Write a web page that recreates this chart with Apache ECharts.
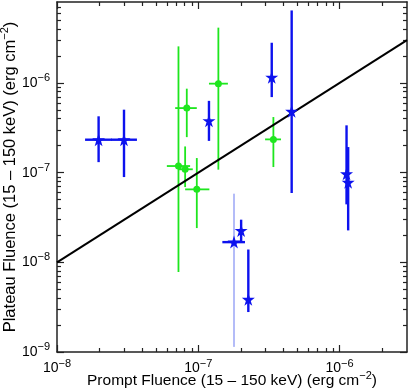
<!DOCTYPE html>
<html>
<head>
<meta charset="utf-8">
<script src="https://cdn.jsdelivr.net/npm/echarts@6/dist/echarts.min.js"></script>
<style>
  html, body { margin: 0; padding: 0; background: #fff; }
  #chart { width: 409px; height: 392px; }
</style>
</head>
<body>
<div id="chart"></div>
<script>
// axis ranges
const xMin = 1e-8, xMax = 3e-6;
const yMin = 1e-9, yMax = 8e-6;

// tick values (decades get labels, the rest are minor ticks)
const xMajor = [1e-8, 1e-7, 1e-6];
const xMinor = [2e-8, 3e-8, 4e-8, 5e-8, 6e-8, 7e-8, 8e-8, 9e-8,
                2e-7, 3e-7, 4e-7, 5e-7, 6e-7, 7e-7, 8e-7, 9e-7, 2e-6];
const yMajor = [1e-9, 1e-8, 1e-7, 1e-6];
const yMinor = [2e-9, 3e-9, 4e-9, 5e-9, 6e-9, 7e-9, 8e-9, 9e-9,
                2e-8, 3e-8, 4e-8, 5e-8, 6e-8, 7e-8, 8e-8, 9e-8,
                2e-7, 3e-7, 4e-7, 5e-7, 6e-7, 7e-7, 8e-7, 9e-7,
                2e-6, 3e-6, 4e-6, 5e-6, 6e-6, 7e-6];

// blue stars
const blueX   = [1.97e-8, 2.98e-8, 1.19e-7, 3.31e-7, 4.58e-7, 1.12e-6, 1.15e-6, 1.79e-7, 2.01e-7, 2.26e-7];
const blueY   = [2.33e-7, 2.33e-7, 3.80e-7, 1.16e-6, 4.83e-7, 9.7e-8, 7.8e-8, 1.68e-8, 2.27e-8, 3.87e-9];
const blueXLo = [1.58e-8, 2.41e-8, 1.19e-7, 3.31e-7, 4.58e-7, 1.12e-6, 1.15e-6, 1.48e-7, 2.01e-7, 2.26e-7];
const blueXHi = [2.44e-8, 3.68e-8, 1.19e-7, 3.31e-7, 4.58e-7, 1.12e-6, 1.15e-6, 2.14e-7, 2.01e-7, 2.26e-7];
const blueYLo = [1.31e-7, 8.93e-8, 2.26e-7, 6.96e-7, 5.93e-8, 4.43e-8, 2.27e-8, 1.68e-8, 1.73e-8, 2.79e-9];
const blueYHi = [4.25e-7, 5.04e-7, 6.32e-7, 2.81e-6, 6.44e-6, 3.37e-7, 1.93e-7, 1.68e-8, 2.99e-8, 1.39e-8];

// the one pale vertical bar
const faintX   = [1.79e-7];
const faintYLo = [1.14e-9];
const faintYHi = [5.83e-8];

// green circles
const greenX   = [8.29e-8, 1.387e-7, 7.24e-8, 8.07e-8, 9.76e-8, 3.40e-7];
const greenY   = [5.25e-7, 9.83e-7, 1.185e-7, 1.09e-7, 6.51e-8, 2.35e-7];
const greenXLo = [6.86e-8, 1.19e-7, 5.99e-8, 7.2e-8, 8.07e-8, 2.97e-7];
const greenXHi = [9.76e-8, 1.62e-7, 8.75e-8, 9.14e-8, 1.198e-7, 3.85e-7];
const greenYLo = [2.49e-7, 1.08e-7, 7.8e-9, 6.91e-8, 2.41e-8, 1.155e-7];
const greenYHi = [8.64e-7, 4.14e-6, 2.56e-6, 1.96e-7, 1.455e-7, 4.17e-7];

// y = x line
const lineX = [1e-8, 3e-6];
const lineY = [1e-8, 3e-6];

const FONT = "'Liberation Sans', Arial, sans-serif";
const BLUE = '#0d12ee';
const GREEN = '#1ee61e';
const PALE = '#b4bcf8';
const STAR = 'path://M50,0 L61,35 L98,35 L68,57 L79,91 L50,70 L21,91 L32,57 L2,35 L39,35 Z';

// 10^-n tick labels
const rich = {
  b: { fontSize: 14, fontFamily: FONT, color: '#000' },
  e: { fontSize: 11, fontFamily: FONT, color: '#000', padding: [0, 0, 10, 0] }
};
// superscript inside the axis names
const nameRich = {
  e: { fontSize: 11, fontFamily: FONT, color: '#000', padding: [0, 0, 11, 0] }
};

function powLabel(v) {
  const p = Math.round(Math.log10(v));
  return '{b|10}{e|\u2212' + Math.abs(p) + '}';
}

// one axis = border + major ticks (+ labels), second one only minor ticks
function axisPair(dim, pos, min, max, major, minor, withLabels) {
  const base = { type: 'log', logBase: 10, min: min, max: max, position: pos,
                 splitLine: { show: false }, gridIndex: 0 };
  const main = Object.assign({}, base, {
    axisLine: { show: true, lineStyle: { color: '#222', width: 1.5 } },
    axisTick: { show: true, inside: true, length: 7, customValues: major,
                lineStyle: { color: '#222', width: 1.2 } },
    axisLabel: withLabels
      ? { show: true, customValues: major, formatter: powLabel, rich: rich,
          margin: dim === 'x' ? 6 : 7 }
      : { show: false }
  });
  const sub = Object.assign({}, base, {
    axisLine: { show: false },
    axisTick: { show: true, inside: true, length: 4, customValues: minor,
                lineStyle: { color: '#222', width: 1.2 } },
    axisLabel: { show: false }
  });
  return [main, sub];
}

const xAxes = axisPair('x', 'bottom', xMin, xMax, xMajor, xMinor, true)
  .concat(axisPair('x', 'top', xMin, xMax, xMajor, xMinor, false));
const yAxes = axisPair('y', 'left', yMin, yMax, yMajor, yMinor, true)
  .concat(axisPair('y', 'right', yMin, yMax, yMajor, yMinor, false));

xAxes[0].name = 'Prompt Fluence (15 \u2013 150 keV) (erg cm{e|\u22122})';
xAxes[0].nameLocation = 'middle';
xAxes[0].nameGap = 18;
xAxes[0].nameMoveOverlap = false;
xAxes[0].nameTextStyle = { fontSize: 15.5, fontFamily: FONT, color: '#000', rich: nameRich };
yAxes[0].name = 'Plateau Fluence (15 \u2013 150 keV) (erg cm{e|\u22122})';
yAxes[0].nameLocation = 'middle';
yAxes[0].nameGap = 36;
yAxes[0].nameMoveOverlap = false;
yAxes[0].nameTextStyle = { fontSize: 16.5, fontFamily: FONT, color: '#000', rich: nameRich };

function zip() {
  const cols = Array.prototype.slice.call(arguments);
  return cols[0].map((_, i) => cols.map(c => c[i]));
}

// error bars: [x, y, xlo, xhi, ylo, yhi]
function errBars(color, width) {
  return function (params, api) {
    const x = api.value(0), y = api.value(1);
    const c = api.coord([x, y]);
    const xl = api.coord([api.value(2), y]);
    const xh = api.coord([api.value(3), y]);
    const yl = api.coord([x, api.value(4)]);
    const yh = api.coord([x, api.value(5)]);
    const style = { stroke: color, lineWidth: width };
    const kids = [];
    if (xh[0] - xl[0] > 0.5) {
      kids.push({ type: 'line', shape: { x1: xl[0], y1: c[1], x2: xh[0], y2: c[1] }, style: style });
    }
    if (yl[1] - yh[1] > 0.5) {
      kids.push({ type: 'line', shape: { x1: c[0], y1: yl[1], x2: c[0], y2: yh[1] }, style: style });
    }
    return { type: 'group', children: kids };
  };
}

const chart = echarts.init(document.getElementById('chart'), null, { renderer: 'canvas' });
chart.setOption({
  animation: false,
  backgroundColor: '#fff',
  grid: { left: 57, right: 2, top: 2, bottom: 40, containLabel: false, outerBoundsMode: 'none' },
  xAxis: xAxes,
  yAxis: yAxes,
  series: [
    {
      type: 'custom',
      renderItem: errBars(PALE, 2),
      data: zip(faintX, faintYLo, faintX, faintX, faintYLo, faintYHi),
      encode: { x: 0, y: 1 },
      z: 1
    },
    {
      type: 'custom',
      renderItem: errBars(GREEN, 1.8),
      data: zip(greenX, greenY, greenXLo, greenXHi, greenYLo, greenYHi),
      encode: { x: 0, y: 1 },
      z: 2
    },
    {
      type: 'custom',
      renderItem: errBars(BLUE, 2.4),
      data: zip(blueX, blueY, blueXLo, blueXHi, blueYLo, blueYHi),
      encode: { x: 0, y: 1 },
      z: 2
    },
    {
      type: 'line',
      data: zip(lineX, lineY),
      showSymbol: false,
      symbol: 'none',
      lineStyle: { color: '#000', width: 2 },
      z: 3
    },
    {
      type: 'scatter',
      data: zip(greenX, greenY),
      symbol: 'circle',
      symbolSize: 7,
      itemStyle: { color: GREEN, opacity: 1 },
      z: 4
    },
    {
      type: 'scatter',
      data: zip(blueX, blueY),
      symbol: STAR,
      symbolSize: 13,
      itemStyle: { color: BLUE, opacity: 1 },
      z: 4
    }
  ]
});
</script>
</body>
</html>
